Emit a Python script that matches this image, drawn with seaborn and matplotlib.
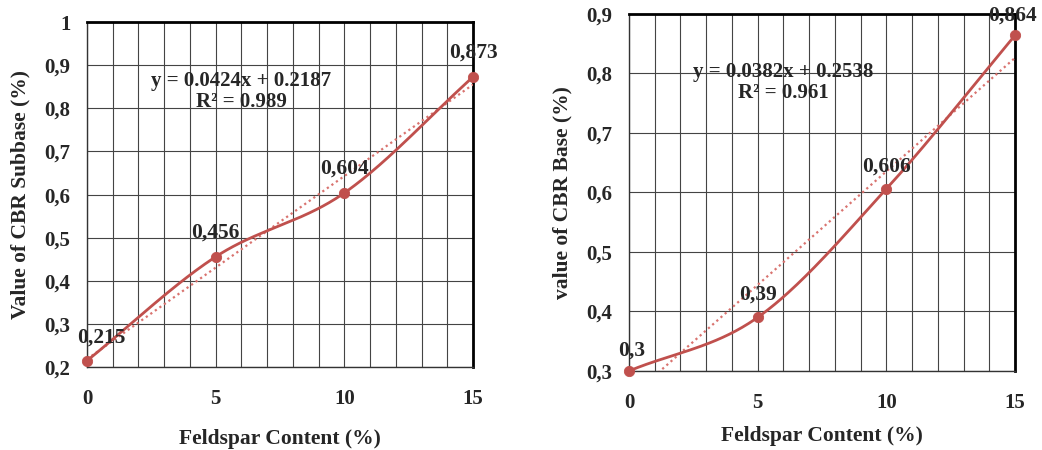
import numpy as np
import pandas as pd
import matplotlib
matplotlib.use("Agg")
import matplotlib.pyplot as plt
from matplotlib.ticker import FuncFormatter
import seaborn as sns

# data
feldspar = [0, 5, 10, 15]
cbr_subbase = [0.215, 0.456, 0.604, 0.873]
cbr_base = [0.3, 0.39, 0.606, 0.864]
subbase_labels = ["0,215", "0,456", "0,604", "0,873"]
base_labels = ["0,3", "0,39", "0,606", "0,864"]
subbase_eq = "y = 0.0424x + 0.2187\nR² = 0.989"
base_eq = "y = 0.0382x + 0.2538\nR² = 0.961"

RED = "#C0504D"

sns.set_theme(style="white")
plt.rcParams["font.family"] = ["Liberation Serif", "DejaVu Serif"]
plt.rcParams["font.weight"] = "bold"


def smooth_curve(x, y, n=60):
    # Catmull-Rom style smoothing, like the "smoothed line" in spreadsheet charts
    x = np.asarray(x, float)
    y = np.asarray(y, float)
    px = np.concatenate([[2 * x[0] - x[1]], x, [2 * x[-1] - x[-2]]])
    py = np.concatenate([[2 * y[0] - y[1]], y, [2 * y[-1] - y[-2]]])
    xs, ys = [], []
    for i in range(1, len(px) - 2):
        t = np.linspace(0, 1, n)
        p0, p1, p2, p3 = (px[i - 1], py[i - 1]), (px[i], py[i]), (px[i + 1], py[i + 1]), (px[i + 2], py[i + 2])
        for k, arr in ((0, xs), (1, ys)):
            a0, a1, a2, a3 = p0[k], p1[k], p2[k], p3[k]
            v = 0.5 * ((2 * a1) + (-a0 + a2) * t + (2 * a0 - 5 * a1 + 4 * a2 - a3) * t ** 2
                       + (-a0 + 3 * a1 - 3 * a2 + a3) * t ** 3)
            arr.extend(v)
    return pd.DataFrame({"x": xs, "y": ys})


def draw_panel(ax, y, labels, label_pos, eq, eq_pos, ylim, ylabel, xlabelpad):
    df = pd.DataFrame({"x": feldspar, "y": y})
    # linear trend line (dotted)
    slope, icpt = np.polyfit(feldspar, y, 1)
    tx = np.linspace(0, 15, 100)
    ax.plot(tx, slope * tx + icpt, color="#D9736F", lw=1.6, ls=(0, (1, 1.5)), zorder=3)
    sm = smooth_curve(feldspar, y)
    sns.lineplot(data=sm, x="x", y="y", sort=False, color=RED, lw=2, ax=ax, zorder=4)
    sns.scatterplot(data=df, x="x", y="y", color=RED, s=55, edgecolor=RED, ax=ax, zorder=5, clip_on=False)
    for (lx, ly), txt in zip(label_pos, labels):
        ax.text(lx, ly, txt, ha="center", va="center", fontsize=15.5, fontweight="bold", zorder=6)
    ax.text(eq_pos[0], eq_pos[1], eq, ha="center", va="center", fontsize=15,
            fontweight="bold", linespacing=1.05, zorder=6)

    ax.set_xlim(0, 15)
    ax.set_ylim(*ylim)
    ax.set_xticks([0, 5, 10, 15])
    ax.set_xticks(np.arange(0, 16, 1), minor=True)
    ax.set_yticks(np.round(np.arange(ylim[0], ylim[1] + 0.001, 0.1), 1))
    ax.yaxis.set_major_formatter(FuncFormatter(lambda v, p: f"{v:g}".replace(".", ",")))
    ax.grid(True, which="both", color="#444444", lw=0.8)
    ax.tick_params(axis="x", which="major", labelsize=15, pad=16, length=0)
    ax.tick_params(axis="y", labelsize=15, pad=12, length=0)
    for t in ax.get_xticklabels() + ax.get_yticklabels():
        t.set_fontweight("bold")
    ax.set_xlabel("Feldspar Content (%)", fontsize=15.5, fontweight="bold", labelpad=xlabelpad)
    ax.set_ylabel(ylabel, fontsize=15.5, fontweight="bold", labelpad=10)
    for side in ["top", "right"]:
        ax.spines[side].set_linewidth(2)
        ax.spines[side].set_color("black")
    for side in ["left", "bottom"]:
        ax.spines[side].set_linewidth(1)
        ax.spines[side].set_color("#333333")


fig = plt.figure(figsize=(10.42, 4.5), dpi=100)
ax1 = fig.add_axes([0.0835, 0.184, 0.3705, 0.767])
ax2 = fig.add_axes([0.6036, 0.1756, 0.3705, 0.7934])

draw_panel(ax1, cbr_subbase, subbase_labels,
           [(0.55, 0.268), (5, 0.513), (10, 0.661), (15, 0.93)],
           subbase_eq, (6.0, 0.839), (0.2, 1.0), "Value of CBR Subbase (%)", 14)
draw_panel(ax2, cbr_base, base_labels,
           [(0.1, 0.335), (5, 0.428), (10, 0.643), (14.9, 0.898)],
           base_eq, (6.0, 0.785), (0.3, 0.9), "value of CBR Base (%)", 9)

fig.savefig("out.png", dpi=100)
